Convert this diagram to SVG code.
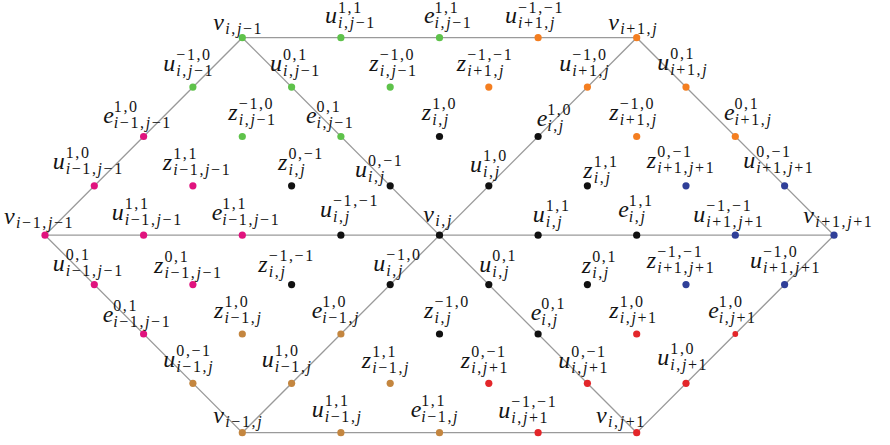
<svg xmlns="http://www.w3.org/2000/svg" width="890" height="445" viewBox="0 0 890 445">
<style>
.ln{stroke:#9a9a9a;stroke-width:1.3;fill:none}
text{font-family:"Liberation Serif",serif;font-style:italic;font-size:24px;fill:#141414}
.s{font-size:16px;font-style:normal;letter-spacing:1.6px}
.m{font-style:italic}
.g{fill:#5ec24a}.o{fill:#f47e20}.mg{fill:#e0137e}.k{fill:#111}.bl{fill:#2f3f98}.br{fill:#c4863f}.r{fill:#e3262a}
</style>
<g id="connectors">
<polygon class="ln" points="242.3,37.7 636.7,37.7 834,235.2 636.7,432.7 242.3,432.7 45,235.2"/>
<line class="ln" x1="242.3" y1="37.7" x2="636.7" y2="432.7"/>
<line class="ln" x1="636.7" y1="37.7" x2="242.3" y2="432.7"/>
<line class="ln" x1="45" y1="235.2" x2="834" y2="235.2"/>
</g>
<g id="n1"><circle class="g" cx="242.3" cy="37.7" r="3.6"/><text x="213.3" y="29.5">v<tspan class="s" x="225.3" dy="4"><tspan class="m">i</tspan>,<tspan class="m">j</tspan>−1</tspan></text></g>
<g id="n2"><circle class="g" cx="340.9" cy="37.7" r="3.6"/><text x="325" y="23">u<tspan class="s" x="338" dy="-10.5">1,1</tspan><tspan class="s" x="338" dy="15.5"><tspan class="m">i</tspan>,<tspan class="m">j</tspan>−1</tspan></text></g>
<g id="n3"><circle class="g" cx="439.5" cy="37.7" r="3.6"/><text x="424" y="23">e<tspan class="s" x="434.5" dy="-10.5">1,1</tspan><tspan class="s" x="434.5" dy="15.5"><tspan class="m">i</tspan>,<tspan class="m">j</tspan>−1</tspan></text></g>
<g id="n4"><circle class="o" cx="538.1" cy="37.7" r="3.6"/><text x="505" y="23">u<tspan class="s" x="518" dy="-10.5">−1,−1</tspan><tspan class="s" x="518" dy="15.5"><tspan class="m">i</tspan>+1,<tspan class="m">j</tspan></tspan></text></g>
<g id="n5"><circle class="o" cx="636.7" cy="37.7" r="3.6"/><text x="608.3" y="30">v<tspan class="s" x="620.3" dy="4"><tspan class="m">i</tspan>+1,<tspan class="m">j</tspan></tspan></text></g>
<g id="n6"><circle class="g" cx="192.9" cy="87.1" r="3.6"/><text x="163.3" y="71">u<tspan class="s" x="176.3" dy="-11">−1,0</tspan><tspan class="s" x="176.3" dy="16"><tspan class="m">i</tspan>,<tspan class="m">j</tspan>−1</tspan></text></g>
<g id="n7"><circle class="g" cx="291.6" cy="87.1" r="3.6"/><text x="270" y="71">u<tspan class="s" x="283" dy="-11">0,1</tspan><tspan class="s" x="283" dy="16"><tspan class="m">i</tspan>,<tspan class="m">j</tspan>−1</tspan></text></g>
<g id="n8"><circle class="g" cx="390.2" cy="87.1" r="3.6"/><text x="369.3" y="70.7">z<tspan class="s" x="379.8" dy="-11">−1,0</tspan><tspan class="s" x="379.8" dy="16"><tspan class="m">i</tspan>,<tspan class="m">j</tspan>−1</tspan></text></g>
<g id="n9"><circle class="o" cx="488.8" cy="87.1" r="3.6"/><text x="456.7" y="70.7">z<tspan class="s" x="467.2" dy="-11">−1,−1</tspan><tspan class="s" x="467.2" dy="16"><tspan class="m">i</tspan>+1,<tspan class="m">j</tspan></tspan></text></g>
<g id="n10"><circle class="o" cx="587.4" cy="87.1" r="3.6"/><text x="559.3" y="71">u<tspan class="s" x="572.3" dy="-11">−1,0</tspan><tspan class="s" x="572.3" dy="16"><tspan class="m">i</tspan>+1,<tspan class="m">j</tspan></tspan></text></g>
<g id="n11"><circle class="o" cx="686" cy="87.1" r="3.6"/><text x="657.3" y="70">u<tspan class="s" x="670.3" dy="-11">0,1</tspan><tspan class="s" x="670.3" dy="16"><tspan class="m">i</tspan>+1,<tspan class="m">j</tspan></tspan></text></g>
<g id="n12"><circle class="mg" cx="143.6" cy="136.5" r="3.6"/><text x="103.3" y="123">e<tspan class="s" x="113.8" dy="-11">1,0</tspan><tspan class="s" x="113.8" dy="16"><tspan class="m">i</tspan>−1,<tspan class="m">j</tspan>−1</tspan></text></g>
<g id="n13"><circle class="g" cx="242.3" cy="136.5" r="3.6"/><text x="228.3" y="119.5">z<tspan class="s" x="238.8" dy="-11">−1,0</tspan><tspan class="s" x="238.8" dy="16"><tspan class="m">i</tspan>,<tspan class="m">j</tspan>−1</tspan></text></g>
<g id="n14"><circle class="g" cx="340.9" cy="136.5" r="3.6"/><text x="306" y="123">e<tspan class="s" x="316.5" dy="-11">0,1</tspan><tspan class="s" x="316.5" dy="16"><tspan class="m">i</tspan>,<tspan class="m">j</tspan>−1</tspan></text></g>
<g id="n15"><circle class="k" cx="439.5" cy="136.5" r="3.6"/><text x="421.7" y="120">z<tspan class="s" x="432.2" dy="-11">1,0</tspan><tspan class="s" x="432.2" dy="16"><tspan class="m">i</tspan>,<tspan class="m">j</tspan></tspan></text></g>
<g id="n16"><circle class="k" cx="538.1" cy="136.5" r="3.6"/><text x="536.7" y="126">e<tspan class="s" x="547.2" dy="-11">1,0</tspan><tspan class="s" x="547.2" dy="16"><tspan class="m">i</tspan>,<tspan class="m">j</tspan></tspan></text></g>
<g id="n17"><circle class="o" cx="636.7" cy="136.5" r="3.6"/><text x="609.3" y="120">z<tspan class="s" x="619.8" dy="-11">−1,0</tspan><tspan class="s" x="619.8" dy="16"><tspan class="m">i</tspan>+1,<tspan class="m">j</tspan></tspan></text></g>
<g id="n18"><circle class="o" cx="735.3" cy="136.5" r="3.6"/><text x="724" y="120">e<tspan class="s" x="734.5" dy="-11">0,1</tspan><tspan class="s" x="734.5" dy="16"><tspan class="m">i</tspan>+1,<tspan class="m">j</tspan></tspan></text></g>
<g id="n19"><circle class="mg" cx="94.3" cy="185.8" r="3.6"/><text x="52.7" y="168.5">u<tspan class="s" x="65.7" dy="-11">1,0</tspan><tspan class="s" x="65.7" dy="16"><tspan class="m">i</tspan>−1,<tspan class="m">j</tspan>−1</tspan></text></g>
<g id="n20"><circle class="mg" cx="192.9" cy="185.8" r="3.6"/><text x="162.7" y="170">z<tspan class="s" x="173.2" dy="-11">1,1</tspan><tspan class="s" x="173.2" dy="16"><tspan class="m">i</tspan>−1,<tspan class="m">j</tspan>−1</tspan></text></g>
<g id="n21"><circle class="k" cx="291.6" cy="185.8" r="3.6"/><text x="278" y="169.5">z<tspan class="s" x="288.5" dy="-11">0,−1</tspan><tspan class="s" x="288.5" dy="16"><tspan class="m">i</tspan>,<tspan class="m">j</tspan></tspan></text></g>
<g id="n22"><circle class="k" cx="390.2" cy="185.8" r="3.6"/><text x="355" y="176.7">u<tspan class="s" x="368" dy="-11">0,−1</tspan><tspan class="s" x="368" dy="16"><tspan class="m">i</tspan>,<tspan class="m">j</tspan></tspan></text></g>
<g id="n23"><circle class="k" cx="488.8" cy="185.8" r="3.6"/><text x="470" y="171.7">u<tspan class="s" x="483" dy="-11">1,0</tspan><tspan class="s" x="483" dy="16"><tspan class="m">i</tspan>,<tspan class="m">j</tspan></tspan></text></g>
<g id="n24"><circle class="k" cx="587.4" cy="185.8" r="3.6"/><text x="583.3" y="178.3">z<tspan class="s" x="593.8" dy="-11">1,1</tspan><tspan class="s" x="593.8" dy="16"><tspan class="m">i</tspan>,<tspan class="m">j</tspan></tspan></text></g>
<g id="n25"><circle class="bl" cx="686" cy="185.8" r="3.6"/><text x="646.7" y="168.3">z<tspan class="s" x="657.2" dy="-11">0,−1</tspan><tspan class="s" x="657.2" dy="16"><tspan class="m">i</tspan>+1,<tspan class="m">j</tspan>+1</tspan></text></g>
<g id="n26"><circle class="bl" cx="784.6" cy="185.8" r="3.6"/><text x="743.3" y="168.3">u<tspan class="s" x="756.3" dy="-11">0,−1</tspan><tspan class="s" x="756.3" dy="16"><tspan class="m">i</tspan>+1,<tspan class="m">j</tspan>+1</tspan></text></g>
<g id="n27"><circle class="mg" cx="45" cy="235.2" r="3.6"/><text x="4" y="224">v<tspan class="s" x="16" dy="4"><tspan class="m">i</tspan>−1,<tspan class="m">j</tspan>−1</tspan></text></g>
<g id="n28"><circle class="mg" cx="143.6" cy="235.2" r="3.6"/><text x="111.7" y="220">u<tspan class="s" x="124.7" dy="-11">1,1</tspan><tspan class="s" x="124.7" dy="16"><tspan class="m">i</tspan>−1,<tspan class="m">j</tspan>−1</tspan></text></g>
<g id="n29"><circle class="mg" cx="242.3" cy="235.2" r="3.6"/><text x="211.7" y="220">e<tspan class="s" x="222.2" dy="-11">1,1</tspan><tspan class="s" x="222.2" dy="16"><tspan class="m">i</tspan>−1,<tspan class="m">j</tspan>−1</tspan></text></g>
<g id="n30"><circle class="k" cx="340.9" cy="235.2" r="3.6"/><text x="320" y="216.7">u<tspan class="s" x="333" dy="-11">−1,−1</tspan><tspan class="s" x="333" dy="16"><tspan class="m">i</tspan>,<tspan class="m">j</tspan></tspan></text></g>
<g id="n31"><circle class="k" cx="439.5" cy="235.2" r="3.6"/><text x="423.3" y="221.7">v<tspan class="s" x="435.3" dy="4"><tspan class="m">i</tspan>,<tspan class="m">j</tspan></tspan></text></g>
<g id="n32"><circle class="k" cx="538.1" cy="235.2" r="3.6"/><text x="532.7" y="221.7">u<tspan class="s" x="545.7" dy="-11">1,1</tspan><tspan class="s" x="545.7" dy="16"><tspan class="m">i</tspan>,<tspan class="m">j</tspan></tspan></text></g>
<g id="n33"><circle class="k" cx="636.7" cy="235.2" r="3.6"/><text x="618.3" y="216.7">e<tspan class="s" x="628.8" dy="-11">1,1</tspan><tspan class="s" x="628.8" dy="16"><tspan class="m">i</tspan>,<tspan class="m">j</tspan></tspan></text></g>
<g id="n34"><circle class="bl" cx="735.3" cy="235.2" r="3.6"/><text x="693.3" y="221.7">u<tspan class="s" x="706.3" dy="-11">−1,−1</tspan><tspan class="s" x="706.3" dy="16"><tspan class="m">i</tspan>+1,<tspan class="m">j</tspan>+1</tspan></text></g>
<g id="n35"><circle class="bl" cx="834" cy="235.2" r="3.6"/><text x="803.3" y="223.3">v<tspan class="s" x="815.3" dy="4"><tspan class="m">i</tspan>+1,<tspan class="m">j</tspan>+1</tspan></text></g>
<g id="n36"><circle class="mg" cx="94.3" cy="284.6" r="3.6"/><text x="52.7" y="270.7">u<tspan class="s" x="65.7" dy="-11">0,1</tspan><tspan class="s" x="65.7" dy="16"><tspan class="m">i</tspan>−1,<tspan class="m">j</tspan>−1</tspan></text></g>
<g id="n37"><circle class="mg" cx="192.9" cy="284.6" r="3.6"/><text x="154" y="273">z<tspan class="s" x="164.5" dy="-11">0,1</tspan><tspan class="s" x="164.5" dy="16"><tspan class="m">i</tspan>−1,<tspan class="m">j</tspan>−1</tspan></text></g>
<g id="n38"><circle class="k" cx="291.6" cy="284.6" r="3.6"/><text x="258.3" y="271.7">z<tspan class="s" x="268.8" dy="-11">−1,−1</tspan><tspan class="s" x="268.8" dy="16"><tspan class="m">i</tspan>,<tspan class="m">j</tspan></tspan></text></g>
<g id="n39"><circle class="k" cx="390.2" cy="284.6" r="3.6"/><text x="373.3" y="270.7">u<tspan class="s" x="386.3" dy="-11">−1,0</tspan><tspan class="s" x="386.3" dy="16"><tspan class="m">i</tspan>,<tspan class="m">j</tspan></tspan></text></g>
<g id="n40"><circle class="k" cx="488.8" cy="284.6" r="3.6"/><text x="479.3" y="271.7">u<tspan class="s" x="492.3" dy="-11">0,1</tspan><tspan class="s" x="492.3" dy="16"><tspan class="m">i</tspan>,<tspan class="m">j</tspan></tspan></text></g>
<g id="n41"><circle class="k" cx="587.4" cy="284.6" r="3.6"/><text x="581.7" y="273.3">z<tspan class="s" x="592.2" dy="-11">0,1</tspan><tspan class="s" x="592.2" dy="16"><tspan class="m">i</tspan>,<tspan class="m">j</tspan></tspan></text></g>
<g id="n42"><circle class="bl" cx="686" cy="284.6" r="3.6"/><text x="646.7" y="268.3">z<tspan class="s" x="657.2" dy="-11">−1,−1</tspan><tspan class="s" x="657.2" dy="16"><tspan class="m">i</tspan>+1,<tspan class="m">j</tspan>+1</tspan></text></g>
<g id="n43"><circle class="bl" cx="784.6" cy="284.6" r="3.6"/><text x="750" y="268.3">u<tspan class="s" x="763" dy="-11">−1,0</tspan><tspan class="s" x="763" dy="16"><tspan class="m">i</tspan>+1,<tspan class="m">j</tspan>+1</tspan></text></g>
<g id="n44"><circle class="mg" cx="143.6" cy="334" r="3.6"/><text x="102.7" y="321.7">e<tspan class="s" x="113.2" dy="-11">0,1</tspan><tspan class="s" x="113.2" dy="16"><tspan class="m">i</tspan>−1,<tspan class="m">j</tspan>−1</tspan></text></g>
<g id="n45"><circle class="br" cx="242.3" cy="334" r="3.6"/><text x="214" y="318.3">z<tspan class="s" x="224.5" dy="-11">1,0</tspan><tspan class="s" x="224.5" dy="16"><tspan class="m">i</tspan>−1,<tspan class="m">j</tspan></tspan></text></g>
<g id="n46"><circle class="br" cx="340.9" cy="334" r="3.6"/><text x="311.7" y="318.3">e<tspan class="s" x="322.2" dy="-11">1,0</tspan><tspan class="s" x="322.2" dy="16"><tspan class="m">i</tspan>−1,<tspan class="m">j</tspan></tspan></text></g>
<g id="n47"><circle class="k" cx="439.5" cy="334" r="3.6"/><text x="424" y="318.3">z<tspan class="s" x="434.5" dy="-11">−1,0</tspan><tspan class="s" x="434.5" dy="16"><tspan class="m">i</tspan>,<tspan class="m">j</tspan></tspan></text></g>
<g id="n48"><circle class="k" cx="538.1" cy="334" r="3.6"/><text x="530.7" y="320">e<tspan class="s" x="541.2" dy="-11">0,1</tspan><tspan class="s" x="541.2" dy="16"><tspan class="m">i</tspan>,<tspan class="m">j</tspan></tspan></text></g>
<g id="n49"><circle class="r" cx="636.7" cy="334" r="3.6"/><text x="609.3" y="318.3">z<tspan class="s" x="619.8" dy="-11">1,0</tspan><tspan class="s" x="619.8" dy="16"><tspan class="m">i</tspan>,<tspan class="m">j</tspan>+1</tspan></text></g>
<g id="n50"><circle class="r" cx="735.3" cy="334" r="2.9"/><text x="708.3" y="318.3">e<tspan class="s" x="718.8" dy="-11">1,0</tspan><tspan class="s" x="718.8" dy="16"><tspan class="m">i</tspan>,<tspan class="m">j</tspan>+1</tspan></text></g>
<g id="n51"><circle class="br" cx="192.9" cy="383.3" r="3.6"/><text x="163.3" y="366.7">u<tspan class="s" x="176.3" dy="-11">0,−1</tspan><tspan class="s" x="176.3" dy="16"><tspan class="m">i</tspan>−1,<tspan class="m">j</tspan></tspan></text></g>
<g id="n52"><circle class="br" cx="291.6" cy="383.3" r="3.6"/><text x="261.7" y="366.7">u<tspan class="s" x="274.7" dy="-11">1,0</tspan><tspan class="s" x="274.7" dy="16"><tspan class="m">i</tspan>−1,<tspan class="m">j</tspan></tspan></text></g>
<g id="n53"><circle class="br" cx="390.2" cy="383.3" r="3.6"/><text x="361.7" y="368.3">z<tspan class="s" x="372.2" dy="-11">1,1</tspan><tspan class="s" x="372.2" dy="16"><tspan class="m">i</tspan>−1,<tspan class="m">j</tspan></tspan></text></g>
<g id="n54"><circle class="r" cx="488.8" cy="383.3" r="3.6"/><text x="460.7" y="368.3">z<tspan class="s" x="471.2" dy="-11">0,−1</tspan><tspan class="s" x="471.2" dy="16"><tspan class="m">i</tspan>,<tspan class="m">j</tspan>+1</tspan></text></g>
<g id="n55"><circle class="r" cx="587.4" cy="383.3" r="3.6"/><text x="558.3" y="368">u<tspan class="s" x="571.3" dy="-11">0,−1</tspan><tspan class="s" x="571.3" dy="16"><tspan class="m">i</tspan>,<tspan class="m">j</tspan>+1</tspan></text></g>
<g id="n56"><circle class="r" cx="686" cy="383.3" r="3.6"/><text x="657.3" y="365">u<tspan class="s" x="670.3" dy="-11">1,0</tspan><tspan class="s" x="670.3" dy="16"><tspan class="m">i</tspan>,<tspan class="m">j</tspan>+1</tspan></text></g>
<g id="n57"><circle class="br" cx="242.3" cy="432.7" r="3.6"/><text x="213.3" y="423.3">v<tspan class="s" x="225.3" dy="4"><tspan class="m">i</tspan>−1,<tspan class="m">j</tspan></tspan></text></g>
<g id="n58"><circle class="br" cx="340.9" cy="432.7" r="3.6"/><text x="311.7" y="416.7">u<tspan class="s" x="324.7" dy="-11">1,1</tspan><tspan class="s" x="324.7" dy="16"><tspan class="m">i</tspan>−1,<tspan class="m">j</tspan></tspan></text></g>
<g id="n59"><circle class="br" cx="439.5" cy="432.7" r="3.6"/><text x="410.7" y="416.7">e<tspan class="s" x="421.2" dy="-11">1,1</tspan><tspan class="s" x="421.2" dy="16"><tspan class="m">i</tspan>−1,<tspan class="m">j</tspan></tspan></text></g>
<g id="n60"><circle class="r" cx="538.1" cy="432.7" r="3.6"/><text x="498.3" y="418.3">u<tspan class="s" x="511.3" dy="-11">−1,−1</tspan><tspan class="s" x="511.3" dy="16"><tspan class="m">i</tspan>,<tspan class="m">j</tspan>+1</tspan></text></g>
<g id="n61"><circle class="r" cx="636.7" cy="432.7" r="3.6"/><text x="596" y="423.3">v<tspan class="s" x="608" dy="4"><tspan class="m">i</tspan>,<tspan class="m">j</tspan>+1</tspan></text></g>
</svg>
